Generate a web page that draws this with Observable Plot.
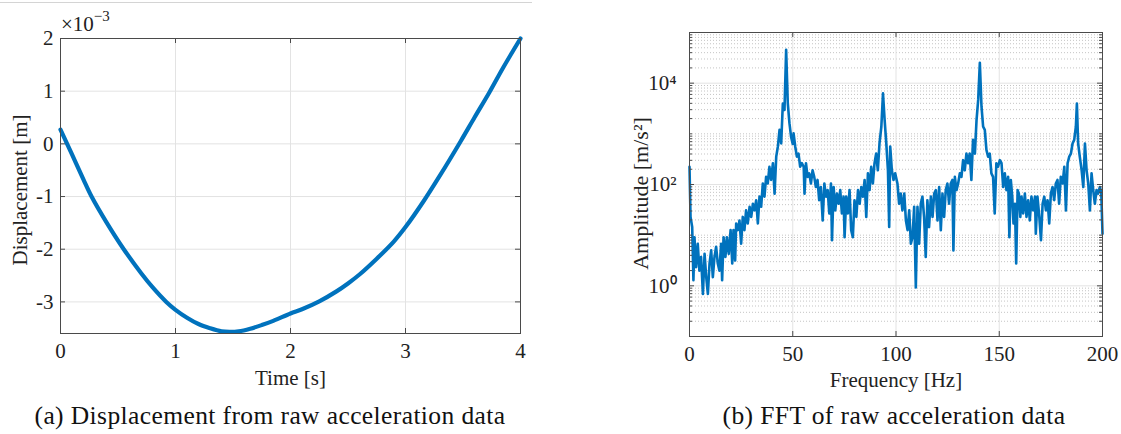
<!DOCTYPE html>
<html><head><meta charset="utf-8">
<script src="https://cdn.jsdelivr.net/npm/d3@7"></script>
<script src="https://cdn.jsdelivr.net/npm/@observablehq/plot@0.6"></script>
<style>
body{margin:0;background:#fff;width:1121px;height:434px;overflow:hidden;position:relative;font-family:"Liberation Serif",serif;color:#222}
#a,#b{position:absolute;top:0}
#a{left:0px}#b{left:600px}
.cap{position:absolute;font-size:25.5px;letter-spacing:0.4px;color:#111;white-space:nowrap;transform:translateX(-50%);line-height:1}
#mult{position:absolute;left:61px;top:10px;font-size:21px;color:#222}
#mult sup{font-size:15px;position:relative;top:-2px}
#rule{position:absolute;left:0;top:2px;width:532px;border-top:1px solid #d4d4d4}
</style></head>
<body>
<div id="rule"></div>
<div id="a"></div><div id="b"></div>
<div id="mult">×10<sup>−3</sup></div>
<div class="cap" style="left:270px;top:403px">(a) Displacement from raw acceleration data</div>
<div class="cap" style="left:894px;top:403px">(b) FFT of raw acceleration data</div>
<script>
// ---- (a) displacement, values in 1e-3 m ----
const timeS = [0, 0.1, 0.2, 0.27, 0.4, 0.55, 0.7, 0.8, 0.92, 1.0, 1.1, 1.2, 1.3, 1.4, 1.47, 1.55, 1.65, 1.75, 1.85, 2.0, 2.1, 2.25, 2.4, 2.5, 2.6, 2.75, 2.9, 3.0, 3.16, 3.3, 3.48, 3.6, 3.73, 3.85, 4.0];
const dispMilli = [0.27, -0.2, -0.68, -1.0, -1.49, -2.0, -2.45, -2.72, -3.0, -3.15, -3.3, -3.42, -3.5, -3.56, -3.57, -3.56, -3.51, -3.44, -3.36, -3.22, -3.14, -2.99, -2.8, -2.65, -2.48, -2.18, -1.85, -1.58, -1.08, -0.6, 0.05, 0.5, 0.98, 1.45, 2.0];
const timeTicks = [0, 1, 2, 3, 4];
const dispTicks = [-3, -2, -1, 0, 1, 2];

// ---- (b) FFT amplitude, log10 of amplitude [m/s^2] ----
const freqHz = [0,0.5,1.3,1.9,2.4,3.2,4.0,4.8,5.6,6.5,7.3,8.1,8.9,9.7,10.5,11.3,12.1,12.9,13.7,14.5,15.3,15.8,16.5,17.4,18.1,19.0,19.9,20.7,21.3,22.1,22.6,23.4,24.2,25.0,25.8,26.6,27.4,28.2,29.1,29.9,30.7,31.5,32.3,33.1,33.9,34.7,35.5,36.3,37.1,37.9,38.7,39.5,40.4,41.2,42.0,42.8,43.6,44.4,45.2,46.0,46.8,47.6,48.4,49.2,50.0,50.4,51.2,52.0,52.8,53.6,54.4,55.3,55.7,56.4,57.2,58.0,58.8,59.6,60.4,61.2,62.0,62.8,63.6,64.5,65.3,66.1,66.9,67.7,68.5,69.0,69.8,70.6,71.4,72.2,73.0,73.8,74.6,75.1,75.9,76.7,77.5,78.3,79.1,79.9,80.8,81.6,82.4,83.2,84.0,84.8,85.6,86.4,87.2,88.0,88.8,89.6,90.4,91.2,92.0,92.9,93.7,94.5,95.3,96.1,96.7,97.2,98.0,98.8,99.6,100.7,101.5,102.3,103.1,104.0,104.8,105.6,106.4,107.2,108.0,108.8,109.6,110.4,111.2,112.0,112.8,113.6,114.4,115.2,116.0,116.9,117.7,118.5,119.3,120.1,120.9,121.7,122.5,123.3,124.1,124.9,125.7,126.5,127.3,127.8,128.5,129.3,130.1,130.9,131.7,132.5,133.3,134.1,134.9,135.7,136.5,137.3,138.2,139.0,139.8,140.6,141.4,142.2,143.0,143.8,144.6,145.4,146.2,147.0,147.8,148.6,149.4,150.3,151.1,151.9,152.7,153.5,154.3,154.9,155.6,156.3,156.9,157.6,158.2,158.9,159.5,160.2,160.8,161.6,162.4,163.2,164.0,164.8,165.6,166.4,167.3,167.7,168.5,169.4,170.2,171.0,171.8,172.6,173.4,174.2,175.0,175.8,176.6,177.4,178.2,179.0,179.8,180.7,181.5,182.3,183.1,183.9,184.7,185.5,186.3,187.1,187.6,188.2,189.0,189.9,190.7,191.5,192.3,193.1,193.9,194.7,195.5,196.3,197.1,197.9,198.7,199.4,200.0];
const ampLog10 = [2.35,1.36,1.16,0.11,0.96,0.37,0.83,0.30,0.57,-0.16,0.63,0.17,-0.16,0.44,0.70,0.17,0.57,0.77,0.44,0.30,0.83,0.11,0.96,0.57,0.96,0.63,1.10,0.44,1.10,0.50,1.23,1.10,1.29,0.83,1.36,1.10,1.49,1.23,1.56,1.36,1.62,1.49,1.69,1.23,1.76,1.56,2.02,1.76,2.15,2.02,2.35,2.09,2.42,1.82,2.55,2.75,3.08,2.81,3.60,3.47,4.66,3.60,3.21,2.94,2.80,3.01,2.75,2.55,2.61,2.35,2.42,2.35,1.82,2.42,2.15,2.22,2.02,2.28,2.15,1.95,2.09,1.69,1.95,1.29,2.02,1.76,1.89,1.43,2.02,0.90,1.95,1.49,1.82,1.62,1.89,1.43,1.76,0.96,1.76,1.43,1.89,1.10,0.96,1.69,1.36,1.89,1.62,1.95,1.76,2.09,1.36,2.22,1.89,2.35,2.02,2.42,2.61,2.28,2.81,3.14,3.80,3.27,2.81,2.28,1.16,2.75,2.28,2.09,2.22,2.02,1.62,1.82,1.49,1.82,1.29,1.10,1.49,0.83,0.96,1.56,-0.03,1.56,0.83,1.62,1.76,1.36,0.57,1.69,1.16,1.76,1.36,1.82,1.89,1.29,1.95,1.10,1.82,1.36,1.89,2.02,1.62,2.02,2.09,0.70,2.15,1.89,2.02,2.22,2.15,2.48,2.28,2.61,2.42,2.61,2.09,2.88,2.61,3.27,3.67,4.40,3.54,3.14,3.08,2.68,2.55,2.61,2.22,2.15,1.43,2.42,2.35,2.48,2.42,1.95,2.22,1.89,2.15,0.96,2.09,1.76,1.23,1.62,0.44,1.89,1.82,1.36,1.76,1.43,1.82,1.36,1.69,1.29,1.76,1.49,1.76,1.03,1.76,1.36,0.90,1.62,1.76,1.49,1.69,1.23,1.82,1.95,1.69,2.02,2.09,1.62,2.15,2.02,2.35,1.49,2.42,2.55,2.61,2.81,2.88,3.14,3.60,2.81,2.55,2.28,1.95,2.81,2.28,2.02,1.49,2.22,1.89,1.62,1.89,1.82,1.95,1.85,1.03];
const freqTicks = [0, 50, 100, 150, 200];
const ampMajorTicks = [1, 100, 10000];
const ampTickLabels = ["10⁰", "10²", "10⁴"];

const BLUE = "#0072BD", GRID = "#e3e3e3", AXIS = "#4a4a4a";
const style = {fontFamily: "'Liberation Serif', serif", fontSize: "21px", color: "#222", background: "transparent", overflow: "visible"};
const fmtMinus = d => d < 0 ? "-" + Math.abs(d) : String(d);

// plot (a)
{
  const W = 560, H = 395, mL = 60, mR = 40, mT = 38, mB = 62;
  const fw = W - mL - mR, fh = H - mT - mB;
  const data = timeS.map((t, i) => ({t, d: dispMilli[i]}));
  const p = Plot.plot({
    width: W, height: H, marginLeft: mL, marginRight: mR, marginTop: mT, marginBottom: mB,
    style,
    x: {domain: [0, 4], ticks: timeTicks, tickSize: 0, tickPadding: 10, tickFormat: d => String(d), label: "Time [s]", labelAnchor: "center", labelArrow: "none", labelOffset: 51},
    y: {domain: [-3.6, 2], ticks: dispTicks, tickSize: 0, tickPadding: 7, tickFormat: fmtMinus, label: null},
    marks: [
      Plot.ruleX(timeTicks, {x: d => d, stroke: GRID}),
      Plot.ruleY(dispTicks, {y: d => d, stroke: GRID}),
      Plot.line(data, {x: "t", y: "d", stroke: BLUE, strokeWidth: 4.2, curve: "catmull-rom"}),
      Plot.tickX(timeTicks, {x: d => d, insetTop: fh - 5, stroke: AXIS}),
      Plot.tickX(timeTicks, {x: d => d, insetBottom: fh - 5, stroke: AXIS}),
      Plot.tickY(dispTicks, {y: d => d, insetRight: fw - 5, stroke: AXIS}),
      Plot.tickY(dispTicks, {y: d => d, insetLeft: fw - 5, stroke: AXIS}),
      Plot.frame({stroke: AXIS, strokeWidth: 1}),
      Plot.text(["Displacement [m]"], {text: d => d, frameAnchor: "left", textAnchor: "middle", lineAnchor: "middle", rotate: -90, dx: -40, dy: 4, fontSize: 21, fill: "#222"})
    ]
  });
  document.getElementById("a").append(p);
}

// plot (b)
{
  const W = 521, H = 395, mL = 89, mR = 19, mT = 32, mB = 59;
  const fw = W - mL - mR, fh = H - mT - mB;
  const data = freqHz.map((f, i) => ({f, a: Math.pow(10, ampLog10[i])}));
  const minor = [];
  for (let e = -1; e <= 4; e++) for (let k = 1; k <= 9; k++) {
    const v = k * Math.pow(10, e);
    if (v <= 1e5 && !ampMajorTicks.includes(v)) minor.push(v);
  }
  minor.push(1e5);
  const p = Plot.plot({
    width: W, height: H, marginLeft: mL, marginRight: mR, marginTop: mT, marginBottom: mB,
    style,
    x: {domain: [0, 200], ticks: freqTicks, tickSize: 0, tickPadding: 10, tickFormat: d => String(d), label: "Frequency [Hz]", labelAnchor: "center", labelArrow: "none", labelOffset: 50},
    y: {type: "log", domain: [0.1, 1e5], ticks: ampMajorTicks, tickSize: 0, tickPadding: 13, tickFormat: d => ampTickLabels[ampMajorTicks.indexOf(d)], label: null},
    marks: [
      Plot.ruleY(minor, {y: d => d, stroke: "#c4c4c4", strokeDasharray: "1,2"}),
      Plot.ruleX(freqTicks, {x: d => d, stroke: GRID}),
      Plot.ruleY(ampMajorTicks, {y: d => d, stroke: GRID}),
      Plot.line(data, {x: "f", y: "a", stroke: BLUE, strokeWidth: 2.6}),
      Plot.tickX(freqTicks, {x: d => d, insetTop: fh - 5, stroke: AXIS}),
      Plot.tickX(freqTicks, {x: d => d, insetBottom: fh - 5, stroke: AXIS}),
      Plot.tickY(ampMajorTicks, {y: d => d, insetRight: fw - 5, stroke: AXIS}),
      Plot.tickY(ampMajorTicks, {y: d => d, insetLeft: fw - 5, stroke: AXIS}),
      Plot.tickY(minor, {y: d => d, insetRight: fw - 3, stroke: AXIS}),
      Plot.tickY(minor, {y: d => d, insetLeft: fw - 3, stroke: AXIS}),
      Plot.frame({stroke: AXIS, strokeWidth: 1}),
      Plot.text(["Amplitude [m/s²]"], {text: d => d, frameAnchor: "left", textAnchor: "middle", lineAnchor: "middle", rotate: -90, dx: -49, dy: 9, fontSize: 22, fill: "#222"})
    ]
  });
  document.getElementById("b").append(p);
}
</script>
</body></html>
